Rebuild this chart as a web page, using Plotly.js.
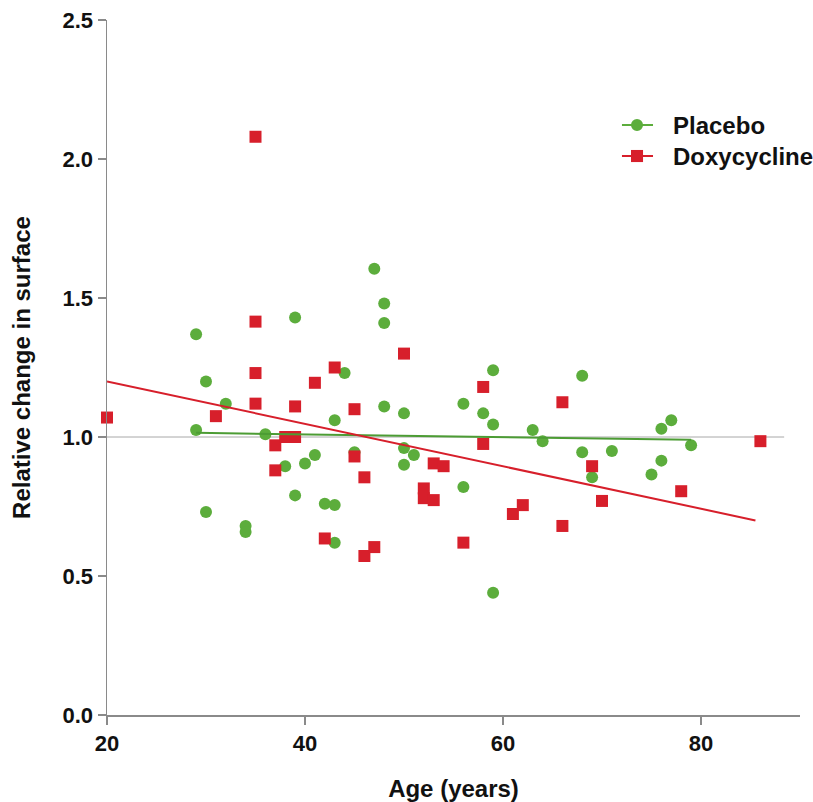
<!DOCTYPE html>
<html>
<head>
<meta charset="utf-8">
<script src="https://cdn.plot.ly/plotly-3.0.1.min.js"></script>
<style>html,body{margin:0;padding:0;background:#fff;}#chart{width:813px;height:802px;}</style>
</head>
<body>
<div id="chart"></div>
<script>
// Placebo (green circles)
const placeboAge = [29,30,32,29,30,34,34,36,38,39,39,40,41,42,43,43,43,44,45,47,48,48,48,50,50,50,51,56,56,58,59,59,59,63,64,68,68,69,71,75,76,76,77,79];
const placeboChange = [1.37,1.20,1.12,1.025,0.73,0.68,0.658,1.01,0.895,1.43,0.79,0.905,0.935,0.76,0.755,1.06,0.62,1.23,0.945,1.605,1.48,1.41,1.11,1.085,0.96,0.90,0.935,1.12,0.82,1.085,1.24,1.045,0.44,1.025,0.985,1.22,0.945,0.855,0.95,0.865,0.915,1.03,1.06,0.97];
// Doxycycline (red squares)
const doxyAge = [20,31,35,35,35,35,37,37,38,39,39,41,42,43,45,45,46,46,47,50,52,52,53,53,54,56,58,58,61,62,66,66,69,70,78,86];
const doxyChange = [1.07,1.075,2.08,1.415,1.23,1.12,0.97,0.88,1.0,1.0,1.11,1.195,0.635,1.25,1.10,0.93,0.855,0.572,0.604,1.30,0.815,0.78,0.905,0.773,0.895,0.62,1.18,0.975,0.723,0.755,1.125,0.68,0.895,0.77,0.805,0.985];
// Fitted regression lines
const placeboFitAge = [29, 79];
const placeboFitChange = [1.015, 0.99];
const doxyFitAge = [20, 85.5];
const doxyFitChange = [1.20, 0.70];
// Reference line
const refAge = [20, 88.4];
const refChange = [1.0, 1.0];
const xTicks = [20, 40, 60, 80];
const yTicks = [0, 0.5, 1.0, 1.5, 2.0, 2.5];
const seriesNames = ['Placebo', 'Doxycycline'];

const green = '#5cad3c';
const greenLine = '#4c9c34';
const red = '#d71f2b';
const FONT = 'Liberation Sans, Arial, sans-serif';

const traces = [
  {x: refAge, y: refChange, mode: 'lines', line: {color: '#a8a8a8', width: 1}, showlegend: false, hoverinfo: 'skip', cliponaxis: false},
  {x: placeboAge, y: placeboChange, mode: 'markers', name: seriesNames[0], showlegend: false,
   marker: {symbol: 'circle', size: 12, color: green}, cliponaxis: false},
  {x: doxyAge, y: doxyChange, mode: 'markers', name: seriesNames[1], showlegend: false,
   marker: {symbol: 'square', size: 12, color: red}, cliponaxis: false},
  {x: placeboFitAge, y: placeboFitChange, mode: 'lines', line: {color: greenLine, width: 2}, showlegend: false, cliponaxis: false},
  {x: doxyFitAge, y: doxyFitChange, mode: 'lines', line: {color: red, width: 2}, showlegend: false, cliponaxis: false}
];

// Manual legend (paper coordinates)
const legX0 = 0.7431, legX1 = 0.7879, legXm = 0.7648, legTextX = 0.8139;
const legY = [0.8489, 0.8043];
const hx = 0.0087, hy = 0.0087;
const legColors = [green, red];
const shapes = [];
const annotations = [];
seriesNames.forEach((name, i) => {
  shapes.push({type: 'line', xref: 'paper', yref: 'paper', x0: legX0, x1: legX1, y0: legY[i], y1: legY[i],
               line: {color: legColors[i], width: 2}, layer: 'above'});
  shapes.push({type: i === 0 ? 'circle' : 'rect', xref: 'paper', yref: 'paper',
               x0: legXm - hx, x1: legXm + hx, y0: legY[i] - hy, y1: legY[i] + hy,
               fillcolor: legColors[i], line: {width: 0}, layer: 'above'});
  annotations.push({xref: 'paper', yref: 'paper', x: legTextX, y: legY[i], xanchor: 'left', yanchor: 'middle',
                    text: name, showarrow: false, font: {family: FONT, size: 24, color: '#111', weight: 'bold'}});
});

const layout = {
  width: 813, height: 802,
  margin: {l: 107, r: 13, t: 20, b: 87},
  paper_bgcolor: '#fff', plot_bgcolor: '#fff',
  font: {family: FONT, size: 22, color: '#111', weight: 'bold'},
  showlegend: false,
  shapes: shapes,
  annotations: annotations,
  xaxis: {
    range: [20, 90], tickvals: xTicks, ticktext: xTicks.map(String),
    showgrid: false, zeroline: false, showline: true, linecolor: '#8a8a8a', linewidth: 1.5,
    ticks: 'outside', ticklen: 8, tickwidth: 1.5, tickcolor: '#8a8a8a',
    tickfont: {family: FONT, size: 22, color: '#111', weight: 'bold'},
    title: {text: 'Age (years)', font: {family: FONT, size: 24, color: '#111', weight: 'bold'}, standoff: 28},
    automargin: false
  },
  yaxis: {
    range: [0, 2.5], tickvals: yTicks, ticktext: yTicks.map(v => v.toFixed(1)),
    showgrid: false, zeroline: false, showline: true, linecolor: '#8a8a8a', linewidth: 1.5,
    ticks: 'outside', ticklen: 8, tickwidth: 1.5, tickcolor: '#8a8a8a',
    tickfont: {family: FONT, size: 22, color: '#111', weight: 'bold'},
    title: {text: 'Relative change in surface', font: {family: FONT, size: 24, color: '#111', weight: 'bold'}, standoff: 25},
    automargin: false
  }
};

Plotly.newPlot('chart', traces, layout, {displayModeBar: false, staticPlot: true});
</script>
</body>
</html>
